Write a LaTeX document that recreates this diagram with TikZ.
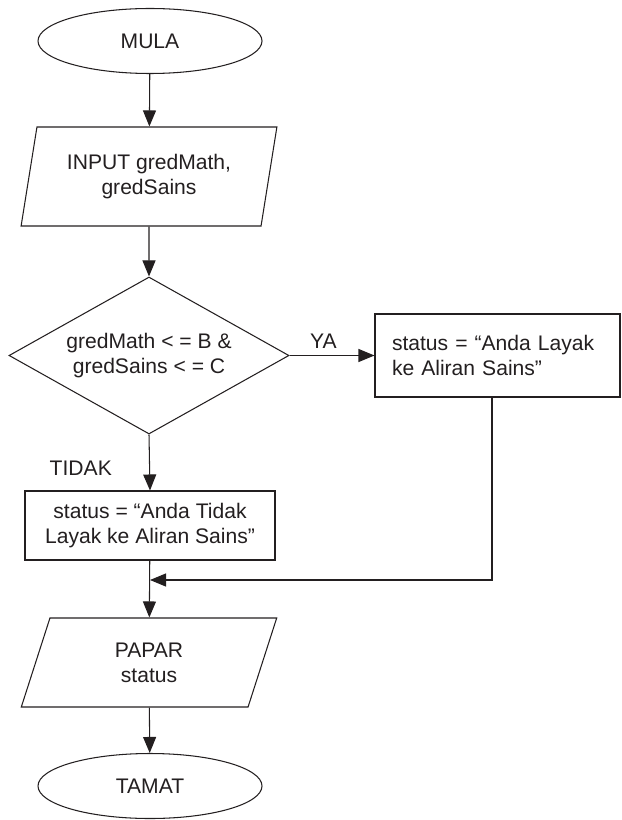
\documentclass[tikz,border=0pt]{standalone}
\usepackage{fontspec}
\setmainfont{Liberation Sans}
\usetikzlibrary{shapes.geometric,arrows.meta}
\definecolor{ink}{RGB}{35,31,32}

\tikzset{
	every node/.style={font=\fontsize{18}{21.5}\selectfont, text=ink},
	terminal/.style={draw=ink, ellipse, minimum width=6.72cm, minimum height=1.95cm},
	io/.style={draw=ink, trapezium, trapezium stretches=true, trapezium left angle=77, trapezium right angle=103, minimum width=7.68cm, align=center},
	decision/.style={draw=ink, diamond, aspect=1.78, minimum width=8.4cm, minimum height=4.71cm, inner sep=0pt, align=center},
	process/.style={draw=ink, rectangle},
	flow/.style={draw=ink, -{Triangle[length=0.48cm,width=0.39cm]}}
}

\begin{document}
\begin{tikzpicture}[x=0.03cm, y=-0.03cm, line width=0.9pt]
		
		\useasboundingbox (0,0) rectangle (621,820);
		
		\node[terminal] (mula) at (150,41) {MULA};
		\node[io, minimum height=2.97cm] (input) at (149,176.5) {INPUT gredMath,\\gredSains};
		\node[decision] (cond) at (149,355.5) {gredMath < = B \&\\gredSains < = C};
		\node[process, minimum width=7.35cm, minimum height=2.49cm, text width=6.33cm, inner xsep=0.51cm, align=left] (layak) at (497.5,355.5) {status = “Anda Layak\\ke Aliran Sains”};
		\node[process, minimum width=7.5cm, minimum height=2.07cm, align=center] (tidak) at (150,525.5) {status = “Anda Tidak\\Layak ke Aliran Sains”};
		\coordinate (join) at (150,580);
		\node[io, minimum height=2.67cm] (papar) at (149,662.5) {PAPAR\\status};
		\node[terminal] (tamat) at (150,786) {TAMAT};
		
		\draw[flow] (mula) -- (input);
		\draw[flow] (input) -- (cond);
		\draw[flow] (cond.east) -- (layak.west) node [pos=0.4, above=2pt] {YA};
		\draw[flow] (cond.south) -- (tidak.north) node [pos=0.6, left=1cm] {TIDAK};
		\draw[flow] ([xshift=-0.165cm]layak.south) |- (join);
		\draw[flow] (tidak) -- (papar);
		\draw[flow] (papar) -- (tamat);
		
	\end{tikzpicture}
\end{document}
